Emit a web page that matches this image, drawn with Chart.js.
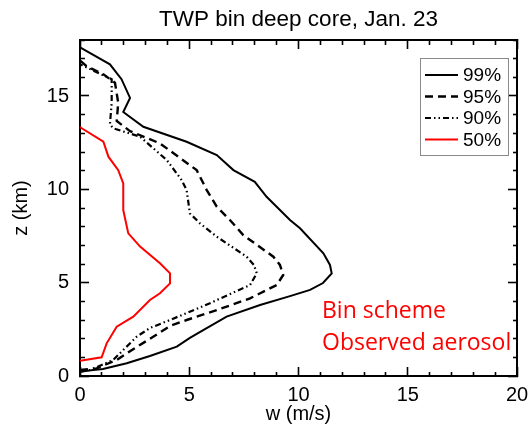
<!DOCTYPE html>
<html>
<head>
<meta charset="utf-8">
<script src="https://cdn.jsdelivr.net/npm/chart.js@4"></script>
<style>
  html, body { margin: 0; padding: 0; background: #fff; }
  #wrap { width: 530px; height: 429px; }
</style>
</head>
<body>
<div id="wrap"><canvas id="profileCanvas"></canvas></div>
<script>
// vertical velocity percentiles, w (m/s) against height z (km)
const w99 = [0, 0.6, 1.05, 2.14, 3.2, 4.43, 5.03, 5.64, 6.71, 8.24, 9.61, 10.53, 11.12, 11.52, 11.44, 11.14, 10.07, 9.61, 8.54, 8.0, 7.02, 6.26, 4.88, 2.9, 1.98, 2.29, 1.9, 1.37, 0];
const z99 = [0.23, 0.32, 0.37, 0.68, 1.07, 1.57, 2.04, 2.46, 3.18, 3.8, 4.28, 4.61, 4.98, 5.5, 5.95, 6.57, 7.91, 8.36, 9.6, 10.4, 11.03, 11.84, 12.55, 13.35, 14.14, 14.9, 15.9, 16.7, 17.6];

const w95 = [0, 0.76, 1.68, 2.52, 3.35, 4.12, 4.88, 6.26, 7.78, 9.0, 9.3, 9.15, 8.85, 7.47, 6.86, 6.26, 5.8, 5.34, 3.66, 2.29, 1.68, 1.75, 1.6, 1.07, 0.3, 0];
const z95 = [0.32, 0.41, 0.86, 1.5, 2.1, 2.68, 3.0, 3.53, 4.16, 4.87, 5.41, 5.95, 6.39, 7.55, 8.36, 9.07, 9.96, 11.03, 12.46, 13.12, 13.66, 14.64, 15.71, 16.16, 16.6, 16.9];

const w90 = [0, 0.46, 1.52, 2.59, 3.2, 4.12, 5.95, 6.26, 7.78, 8.09, 7.96, 7.63, 6.26, 5.49, 5.03, 4.88, 4.65, 3.97, 2.75, 1.52, 1.37, 1.45, 1.45, 0.9, 0];
const z90 = [0.23, 0.32, 0.86, 2.1, 2.57, 3.0, 3.9, 4.07, 4.87, 5.5, 5.95, 6.39, 7.46, 8.18, 8.71, 9.96, 10.5, 11.57, 12.82, 13.27, 13.48, 14.64, 15.9, 16.2, 16.7];

const w50 = [0, 0.99, 1.22, 1.68, 2.44, 3.2, 3.66, 4.12, 4.12, 3.66, 2.75, 2.21, 1.98, 1.98, 1.75, 1.3, 1.07, 0.08, 0];
const z50 = [0.82, 1.0, 1.75, 2.64, 3.18, 4.07, 4.43, 4.96, 5.5, 6.04, 6.93, 7.64, 8.89, 10.32, 11.03, 11.75, 12.55, 13.27, 13.34];

const seriesLabels = ["99%", "95%", "90%", "50%"];
const noteLines = ["Bin scheme", "Observed aerosol"];

const sans = "'Liberation Sans', Arial, Helvetica, sans-serif";

function toPoints(ws, zs) {
    return ws.map((w, i) => ({ x: w, y: zs[i] }));
}

function lineSet(label, ws, zs, color, dash, width) {
    return {
        label: label,
        data: toPoints(ws, zs),
        borderColor: color,
        borderWidth: width,
        borderDash: dash,
        pointRadius: 0,
        tension: 0
    };
}

// ticks every unit point inwards; the ones between fives are cut short by a dash.
// bottom/right ticks are stroked from the border in, top/left ones from the inside out
const dashFromBorder = c => (c.tick && c.tick.value % 5 !== 0) ? [5, 40] : [];
const dashToBorder = c => (c.tick && c.tick.value % 5 !== 0) ? [0, 4, 5, 40] : [];

function tickGrid(dash) {
    return {
        display: true,
        drawOnChartArea: false,
        drawTicks: true,
        tickLength: -9,
        tickWidth: 1.6,
        tickColor: "#000",
        tickBorderDash: dash
    };
}

const frameBorder = { display: true, color: "#000", width: 2 };

// legend box in the top right corner and the red note
const notePlugin = {
    id: "note",
    afterDraw(chart) {
        const ctx = chart.ctx;
        ctx.save();
        const bx = 420, by = 58, bw = 88, bh = 97;
        ctx.fillStyle = "#fff";
        ctx.fillRect(bx, by, bw, bh);
        ctx.strokeStyle = "#8a8a8a";
        ctx.lineWidth = 1;
        ctx.strokeRect(bx + 0.5, by + 0.5, bw, bh);
        ctx.font = "19px " + sans;
        ctx.textBaseline = "middle";
        ctx.textAlign = "left";
        chart.data.datasets.forEach((ds, i) => {
            const y = by + 17 + i * 21.5;
            ctx.strokeStyle = ds.borderColor;
            ctx.lineWidth = ds.borderWidth;
            ctx.setLineDash(ds.borderDash || []);
            ctx.beginPath();
            ctx.moveTo(bx + 5, y);
            ctx.lineTo(bx + 38, y);
            ctx.stroke();
            ctx.setLineDash([]);
            ctx.fillStyle = "#000";
            ctx.fillText(ds.label, bx + 43, y + 1);
        });

        ctx.fillStyle = "#ff0000";
        ctx.font = "23px 'Open Sans', Lato, sans-serif";
        ctx.fillText(noteLines[0], 322, 311);
        ctx.fillText(noteLines[1], 322, 343);
        ctx.restore();
    }
};

const labelFives = v => (v % 5 === 0 ? v : "");

const profileChart = new Chart(document.querySelector("#profileCanvas"), {
    type: "line",
    data: {
        datasets: [
            lineSet(seriesLabels[0], w99, z99, "#000", [], 2),
            lineSet(seriesLabels[1], w95, z95, "#000", [8, 5], 2.4),
            lineSet(seriesLabels[2], w90, z90, "#000", [6, 3, 1.5, 3, 1.5, 3], 2.2),
            lineSet(seriesLabels[3], w50, z50, "#ff0000", [], 2)
        ]
    },
    plugins: [notePlugin],
    options: {
        responsive: true,
        maintainAspectRatio: false,
        animation: false,
        layout: { padding: { left: 0, right: 13, top: 0, bottom: 0 } },
        plugins: {
            legend: { display: false },
            tooltip: { enabled: false },
            title: {
                display: true,
                fullSize: false,
                text: "TWP bin deep core, Jan. 23",
                color: "#000",
                font: { family: sans, size: 22.5, weight: "normal" },
                padding: { top: 6, bottom: 7 }
            }
        },
        scales: {
            x: {
                type: "linear",
                position: "bottom",
                min: 0,
                max: 20,
                afterFit(scale) {
                    scale.height = 53;
                    scale.paddingRight = 0;
                },
                grid: tickGrid(dashFromBorder),
                border: frameBorder,
                ticks: {
                    stepSize: 1,
                    autoSkip: false,
                    maxRotation: 0,
                    padding: 16,
                    color: "#000",
                    font: { family: sans, size: 20 },
                    callback: labelFives
                },
                title: {
                    display: true,
                    text: "w (m/s)",
                    color: "#000",
                    font: { family: sans, size: 20 },
                    padding: { top: 0, bottom: 3 }
                }
            },
            xTop: {
                type: "linear",
                position: "top",
                min: 0,
                max: 20,
                afterFit(scale) {
                    scale.height = 0;
                    scale.paddingLeft = 0;
                    scale.paddingRight = 0;
                },
                grid: tickGrid(dashToBorder),
                border: frameBorder,
                ticks: { stepSize: 1, autoSkip: false, display: false }
            },
            y: {
                type: "linear",
                position: "left",
                min: 0,
                max: 18,
                afterFit(scale) { scale.width = 80; },
                grid: tickGrid(dashToBorder),
                border: frameBorder,
                ticks: {
                    stepSize: 1,
                    autoSkip: false,
                    padding: 20,
                    color: "#000",
                    font: { family: sans, size: 20 },
                    callback: labelFives
                },
                title: {
                    display: true,
                    text: "z (km)",
                    color: "#000",
                    font: { family: sans, size: 20 },
                    padding: { top: 9, bottom: 0 }
                }
            },
            yRight: {
                type: "linear",
                position: "right",
                min: 0,
                max: 18,
                afterFit(scale) { scale.width = 0; },
                grid: tickGrid(dashFromBorder),
                border: frameBorder,
                ticks: { stepSize: 1, autoSkip: false, display: false }
            }
        }
    }
});
</script>
</body>
</html>
